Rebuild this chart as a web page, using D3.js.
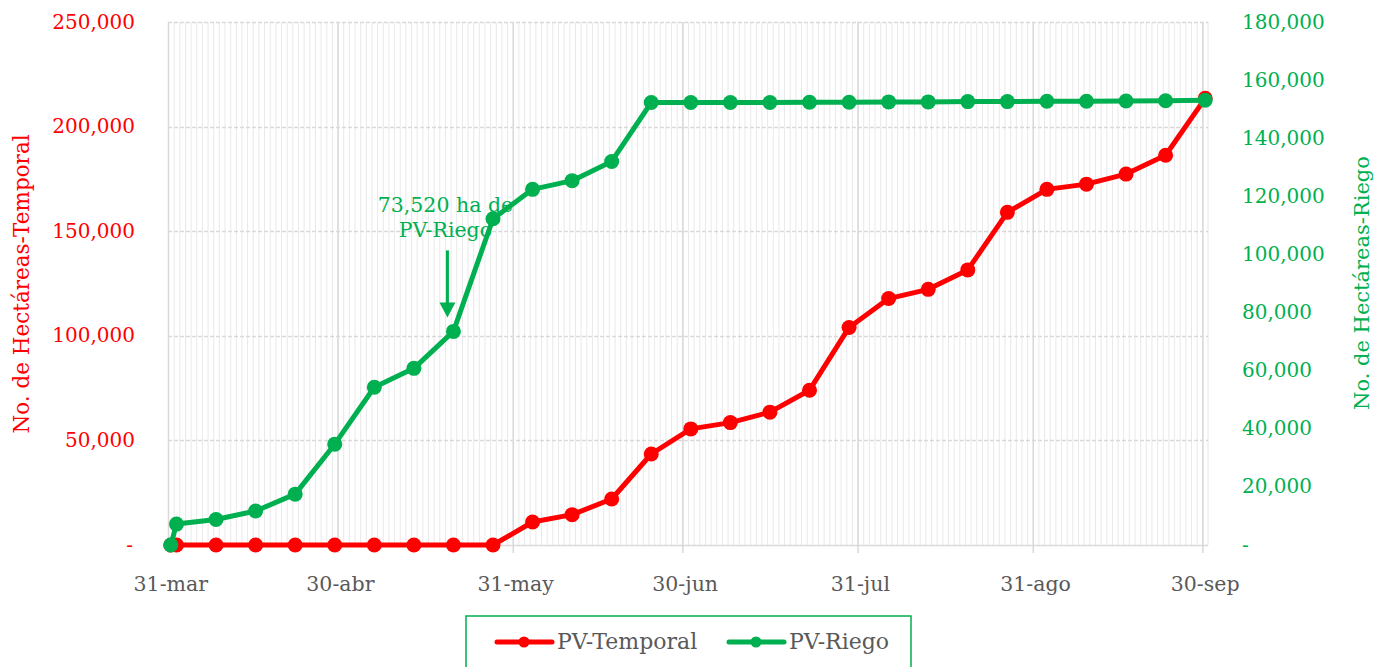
<!DOCTYPE html>
<html>
<head>
<meta charset="utf-8">
<script src="https://cdn.jsdelivr.net/npm/d3@7"></script>
<style>
  body { margin: 0; background: #fff; }
  svg text { font-family: "DejaVu Serif", serif; }
</style>
</head>
<body>
<div id="chart"></div>
<script>
// fechas de corte semanales
const fechas = [
  "2023-03-31", "2023-04-01", "2023-04-08", "2023-04-15", "2023-04-22", "2023-04-29",
  "2023-05-06", "2023-05-13", "2023-05-20", "2023-05-27", "2023-06-03", "2023-06-10",
  "2023-06-17", "2023-06-24", "2023-07-01", "2023-07-08", "2023-07-15", "2023-07-22",
  "2023-07-29", "2023-08-05", "2023-08-12", "2023-08-19", "2023-08-26", "2023-09-02",
  "2023-09-09", "2023-09-16", "2023-09-23", "2023-09-30"
];

// hectáreas acumuladas
const pvTemporal = [
  0, 0, 0, 0, 0, 0, 0, 0, 0, 0, 11000, 14500,
  22000, 43500, 55500, 58500, 63500, 74000, 104000, 117800, 122200, 131500,
  159000, 170000, 172500, 177300, 186300, 213500
];
const pvRiego = [
  0, 7200, 8800, 11700, 17500, 34700, 54300, 60800, 73520, 112300, 122400, 125400,
  132000, 152300, 152300, 152300, 152300, 152400, 152400, 152500, 152500, 152600,
  152600, 152700, 152700, 152800, 152900, 153100
];

const ticksIzq = [0, 50000, 100000, 150000, 200000, 250000];
const ticksDer = [0, 20000, 40000, 60000, 80000, 100000, 120000, 140000, 160000, 180000];
const ticksFecha = ["2023-03-31", "2023-04-30", "2023-05-31", "2023-06-30", "2023-07-31", "2023-08-31", "2023-09-30"];
const etiquetasFecha = ["31-mar", "30-abr", "31-may", "30-jun", "31-jul", "31-ago", "30-sep"];

const ROJO = "#ff0000";
const VERDE = "#00b050";
const GRIS = "#595959";

const W = 1382, H = 667;
const plot = { left: 168, right: 1208, top: 22, bottom: 545 };

const svg = d3.select("#chart").append("svg")
  .attr("width", W)
  .attr("height", H);

const parse = d3.utcParse("%Y-%m-%d");
const dia = 24 * 3600 * 1000;
const mitad = (d) => new Date(parse(d).getTime() + dia / 2);

const x = d3.scaleUtc()
  .domain([parse("2023-03-31"), parse("2023-10-01")])
  .range([plot.left, plot.right]);
const yIzq = d3.scaleLinear().domain([0, 250000]).range([plot.bottom, plot.top]);
const yDer = d3.scaleLinear().domain([0, 180000]).range([plot.bottom, plot.top]);

const fmt = (v) => v === 0 ? "-" : d3.format(",")(v);

// ====== rejilla ======
const grid = svg.append("g");

// líneas diarias (menores)
grid.selectAll("line.menor")
  .data(d3.utcDay.range(parse("2023-03-31"), parse("2023-10-01")))
  .enter().append("line")
  .attr("x1", d => x(d) + 0.5).attr("x2", d => x(d) + 0.5)
  .attr("y1", plot.top).attr("y2", plot.bottom)
  .attr("stroke", "#e9e9e9")
  .attr("stroke-width", 1);

grid.append("line")
  .attr("x1", plot.right).attr("x2", plot.right)
  .attr("y1", plot.top).attr("y2", plot.bottom)
  .attr("stroke", "#e6e6e6");

// horizontales punteadas
grid.selectAll("line.h")
  .data(ticksIzq)
  .enter().append("line")
  .attr("x1", plot.left).attr("x2", plot.right)
  .attr("y1", d => Math.round(yIzq(d)) + 0.5).attr("y2", d => Math.round(yIzq(d)) + 0.5)
  .attr("stroke", "#d9d9d9")
  .attr("stroke-width", 1.5)
  .attr("stroke-dasharray", d => d === 0 ? null : "4,2");

// líneas mensuales (mayores) con marca bajo el eje
grid.selectAll("line.mayor")
  .data(ticksFecha)
  .enter().append("line")
  .attr("x1", d => x(parse(d)) + 0.5).attr("x2", d => x(parse(d)) + 0.5)
  .attr("y1", plot.top).attr("y2", plot.bottom + 8)
  .attr("stroke", "#d9d9d9")
  .attr("stroke-width", 1.5);

// ====== ejes ======
svg.append("g").selectAll("text")
  .data(ticksIzq)
  .enter().append("text")
  .attr("x", d => d === 0 ? 133 : 135)
  .attr("y", d => yIzq(d))
  .attr("dy", "0.33em")
  .attr("text-anchor", "end")
  .attr("fill", ROJO)
  .style("font-size", "20px")
  .text(fmt);

svg.append("g").selectAll("text")
  .data(ticksDer)
  .enter().append("text")
  .attr("x", 1242)
  .attr("y", d => yDer(d))
  .attr("dy", "0.33em")
  .attr("text-anchor", "start")
  .attr("fill", VERDE)
  .style("font-size", "20px")
  .text(fmt);

svg.append("g").selectAll("text")
  .data(ticksFecha)
  .enter().append("text")
  .attr("x", d => x(mitad(d)))
  .attr("y", 591)
  .attr("text-anchor", "middle")
  .attr("fill", GRIS)
  .style("font-size", "20.5px")
  .text((d, i) => etiquetasFecha[i]);

svg.append("text")
  .attr("transform", "translate(29,284) rotate(-90)")
  .attr("text-anchor", "middle")
  .attr("fill", ROJO)
  .style("font-size", "21.5px")
  .text("No. de Hectáreas-Temporal");

svg.append("text")
  .attr("transform", "translate(1369,283) rotate(-90)")
  .attr("text-anchor", "middle")
  .attr("fill", VERDE)
  .style("font-size", "21px")
  .text("No. de Hectáreas-Riego");

// ====== anotación ======
const iAnot = pvRiego.indexOf(73520);
const ax = x(mitad(fechas[iAnot])) - 6;
const ay = yDer(pvRiego[iAnot]) - 14;
const anot = svg.append("g");
anot.append("text")
  .attr("x", ax - 2).attr("y", ay - 105)
  .attr("text-anchor", "middle")
  .attr("fill", VERDE)
  .style("font-size", "20.5px")
  .text("73,520 ha de");
anot.append("text")
  .attr("x", ax - 2).attr("y", ay - 80)
  .attr("text-anchor", "middle")
  .attr("fill", VERDE)
  .style("font-size", "20.5px")
  .text("PV-Riego");
anot.append("line")
  .attr("x1", ax).attr("x2", ax)
  .attr("y1", ay - 67).attr("y2", ay - 12)
  .attr("stroke", VERDE)
  .attr("stroke-width", 3);
anot.append("path")
  .attr("d", `M${ax - 8},${ay - 15} L${ax + 8},${ay - 15} L${ax},${ay} Z`)
  .attr("fill", VERDE);

// ====== series ======
function dibujarSerie(valores, escala, color) {
  const pts = fechas.map((f, i) => ({ x: x(mitad(f)), y: escala(valores[i]) }));
  const g = svg.append("g");
  g.append("path")
    .datum(pts)
    .attr("fill", "none")
    .attr("stroke", color)
    .attr("stroke-width", 5)
    .attr("stroke-linejoin", "round")
    .attr("d", d3.line().x(d => d.x).y(d => d.y));
  g.selectAll("circle")
    .data(pts)
    .enter().append("circle")
    .attr("cx", d => d.x)
    .attr("cy", d => d.y)
    .attr("r", 7.5)
    .attr("fill", color);
}

dibujarSerie(pvTemporal, yIzq, ROJO);
dibujarSerie(pvRiego, yDer, VERDE);

// ====== leyenda ======
const leyenda = svg.append("g");
leyenda.append("rect")
  .attr("x", 466).attr("y", 616)
  .attr("width", 445).attr("height", 70)
  .attr("fill", "#fff")
  .attr("stroke", VERDE)
  .attr("stroke-width", 1.5);

const items = [
  { nombre: "PV-Temporal", color: ROJO, x0: 497 },
  { nombre: "PV-Riego", color: VERDE, x0: 729 }
];
items.forEach(it => {
  leyenda.append("line")
    .attr("x1", it.x0).attr("x2", it.x0 + 55)
    .attr("y1", 642).attr("y2", 642)
    .attr("stroke", it.color)
    .attr("stroke-width", 5)
    .attr("stroke-linecap", "round");
  leyenda.append("circle")
    .attr("cx", it.x0 + 27).attr("cy", 642)
    .attr("r", 5.5)
    .attr("fill", it.color);
  leyenda.append("text")
    .attr("x", it.x0 + 60).attr("y", 649)
    .attr("fill", GRIS)
    .style("font-size", "22px")
    .text(it.nombre);
});
</script>
</body>
</html>
